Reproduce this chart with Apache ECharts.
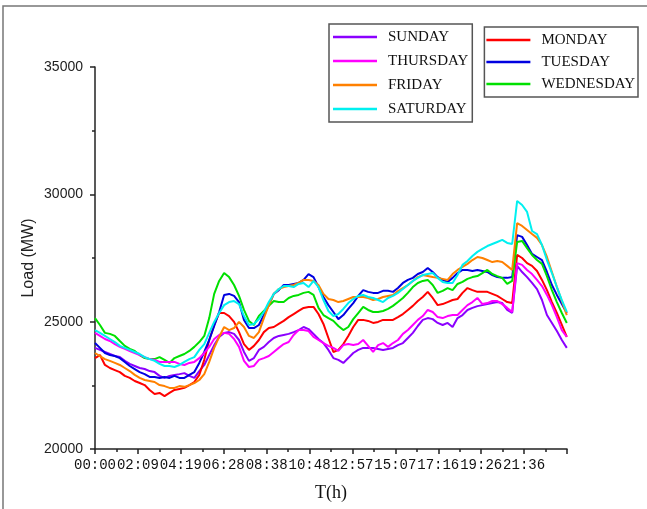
<!DOCTYPE html>
<html>
<head>
<meta charset="utf-8">
<script src="https://cdn.jsdelivr.net/npm/echarts@6/dist/echarts.min.js"></script>
<style>html,body{margin:0;padding:0;background:#fff}#c{width:647px;height:509px}</style>
</head>
<body>
<div id="c"></div>
<script>
// x positions: minutes from 00:00, 96 samples at 15-minute steps
const minutes = Array.from({length: 96}, (_, i) => i * 15);
const tickLabels = ['00:00','02:09','04:19','06:28','08:38','10:48','12:57','15:07','17:16','19:26','21:36'];
const yTicks = [20000, 25000, 30000, 35000];

const SUNDAY = [23970,23890,23810,23730,23650,23610,23460,23340,23260,23180,23140,23060,23020,22870,22790,22870,22910,22940,22980,22870,22790,23060,23300,23690,24080,24400,24560,24590,24520,24280,23810,23460,23570,23890,24010,24200,24360,24440,24480,24520,24590,24670,24790,24710,24520,24320,24160,23890,23570,23500,23380,23570,23770,23890,23970,23970,23970,23930,23890,23930,23970,24080,24160,24360,24560,24830,25070,25140,25100,24950,24870,24950,24790,25140,25260,25460,25540,25610,25650,25690,25730,25770,25730,25460,25340,27190,26950,26750,26520,26280,25850,25260,24950,24630,24280,23970];
const MONDAY = [23570,23690,23300,23180,23100,23020,22870,22790,22670,22590,22510,22320,22160,22200,22080,22200,22320,22360,22400,22510,22630,22910,23500,24280,24870,25340,25340,25220,24990,24590,24120,23890,24050,24280,24590,24750,24790,24910,25030,25180,25300,25420,25540,25580,25580,25300,24910,24360,23810,23890,24120,24440,24790,25070,25070,25030,24950,24990,25070,25070,25070,25180,25300,25460,25620,25810,25970,26170,25930,25650,25690,25770,25850,25890,26130,26320,26240,26170,26170,26170,26090,26010,25890,25770,25730,27620,27500,27300,27190,26990,26640,26240,25770,25340,24870,24400];
const TUESDAY = [24160,23970,23770,23690,23650,23570,23420,23260,23140,23020,22940,22830,22830,22790,22830,22790,22870,22790,22790,22910,23020,23380,23810,24280,24830,25380,26050,26090,26010,25770,25070,24750,24750,24870,25260,25650,26090,26240,26440,26440,26480,26520,26640,26870,26750,26360,25970,25650,25380,25100,25260,25500,25730,26010,26240,26170,26130,26130,26210,26210,26170,26320,26520,26640,26720,26870,26950,27110,26950,26750,26640,26560,26720,26910,27030,27030,26990,27030,26990,26950,26830,26750,26720,26720,26750,28400,28330,28010,27660,27540,27420,26950,26440,26050,25690,25340];
const WEDNESDAY = [25140,24870,24560,24520,24440,24240,24050,23930,23850,23690,23570,23530,23530,23610,23500,23380,23570,23650,23730,23850,24010,24200,24440,25140,26090,26600,26910,26750,26440,26010,25460,25030,24870,25220,25420,25620,25810,25770,25770,25930,26010,26050,26130,26170,26050,25540,25260,25140,25030,24830,24670,24790,25100,25340,25580,25460,25380,25380,25420,25500,25620,25770,25930,26130,26360,26520,26600,26640,26440,26130,26210,26320,26240,26480,26560,26680,26750,26790,26910,27030,26870,26790,26720,26480,26600,28130,28170,27890,27620,27420,27270,26790,26240,25770,25340,24950];
const THURSDAY = [24560,24440,24320,24240,24120,24010,23930,23850,23770,23690,23610,23530,23500,23420,23420,23420,23420,23340,23300,23380,23420,23570,23770,24010,24320,24480,24560,24520,24320,24010,23460,23220,23260,23500,23570,23650,23810,23970,24120,24200,24480,24670,24670,24630,24400,24280,24160,24050,23970,23850,24080,24120,24080,24120,24280,24050,23810,24080,24160,24010,24160,24280,24520,24670,24870,25070,25220,25460,25380,25180,25140,25220,25260,25260,25460,25650,25770,25930,25690,25730,25810,25810,25690,25540,25380,27300,27230,27030,26870,26640,26400,26050,25650,25180,24670,24400];
const FRIDAY = [23770,23650,23530,23460,23380,23300,23180,23060,22910,22790,22710,22670,22630,22510,22470,22400,22400,22470,22440,22510,22590,22710,22940,23420,23970,24400,24790,24670,24750,24990,24790,24440,24360,24590,25140,25650,26090,26280,26360,26400,26440,26520,26640,26640,26600,26440,26090,25890,25850,25770,25810,25890,25970,25970,25970,25930,25850,25890,25970,26010,26050,26200,26320,26440,26600,26750,26830,26790,26750,26720,26680,26640,26870,27030,27150,27270,27420,27540,27500,27420,27340,27380,27340,27190,27030,28870,28760,28600,28440,28290,28010,27540,26950,26360,25810,25260];
const SATURDAY = [24670,24560,24440,24320,24200,24050,23970,23890,23810,23730,23610,23530,23460,23340,23260,23260,23220,23300,23420,23530,23610,23890,24120,24560,24990,25340,25650,25770,25810,25690,25220,24870,24910,25100,25380,25770,26090,26280,26400,26400,26360,26480,26520,26360,26600,26360,25850,25420,25220,25300,25500,25730,25890,26010,26050,25970,25930,25850,25770,25930,26010,26130,26280,26440,26600,26720,26830,26870,26910,26720,26560,26520,26520,26830,27230,27380,27580,27740,27860,27970,28050,28130,28210,28090,28050,29740,29580,29310,28560,28440,28010,27420,26910,26360,25850,25380];

const seriesDefs = [
  ['SUNDAY', SUNDAY, '#8b00ff'],
  ['MONDAY', MONDAY, '#ff0000'],
  ['TUESDAY', TUESDAY, '#0000e0'],
  ['WEDNESDAY', WEDNESDAY, '#00e000'],
  ['THURSDAY', THURSDAY, '#ff00ff'],
  ['FRIDAY', FRIDAY, '#ff8000'],
  ['SATURDAY', SATURDAY, '#00f0f0']
];

const step = 129.6; // 0.09 day
const chart = echarts.init(document.getElementById('c'), null, {renderer: 'canvas'});
const legendText = {fontFamily: 'Liberation Serif', fontSize: 15, color: '#111', lineHeight: 16, padding: [0, 0, 0, 6]};
chart.setOption({
  animation: false,
  backgroundColor: '#fff',
  graphic: [{
    type: 'rect', silent: true,
    shape: {x: 3, y: 6, width: 700, height: 560},
    style: {fill: null, stroke: '#777', lineWidth: 1.5}
  }],
  grid: {left: 95, right: 80, top: 67, bottom: 60},
  legend: [{
    data: ['SUNDAY', 'THURSDAY', 'FRIDAY', 'SATURDAY'],
    orient: 'vertical', left: 329, top: 24,
    icon: 'rect', itemWidth: 44, itemHeight: 2.5, itemGap: 8,
    padding: [5, 4, 5, 4],
    borderColor: '#555', borderWidth: 1.5,
    textStyle: legendText
  }, {
    data: ['MONDAY', 'TUESDAY', 'WEDNESDAY'],
    orient: 'vertical', right: 9, top: 27,
    icon: 'rect', itemWidth: 44, itemHeight: 2.5, itemGap: 6,
    padding: [5, 3, 5, 2],
    borderColor: '#555', borderWidth: 1.5,
    textStyle: legendText
  }],
  xAxis: {
    type: 'value', min: 0, max: step * 11, interval: step,
    name: 'T(h)', nameLocation: 'middle', nameGap: 35, nameMoveOverlap: false,
    nameTextStyle: {fontFamily: 'Liberation Serif', fontSize: 18, color: '#111'},
    axisLine: {lineStyle: {color: '#222', width: 1.5}},
    axisTick: {length: 5, lineStyle: {color: '#222', width: 1.5}},
    minorTick: {show: true, splitNumber: 2, length: 3, lineStyle: {color: '#222', width: 1.5}},
    splitLine: {show: false},
    axisLabel: {
      margin: 9, fontFamily: 'Liberation Mono', fontSize: 14, color: '#111',
      showMaxLabel: false,
      formatter: v => { const k = Math.round(v / step); return k < tickLabels.length ? tickLabels[k] : ''; }
    }
  },
  yAxis: {
    type: 'value', min: yTicks[0], max: yTicks[yTicks.length - 1], interval: 5000,
    name: 'Load (MW)', nameLocation: 'middle', nameGap: 58, nameMoveOverlap: false,
    nameTextStyle: {fontFamily: 'Liberation Sans', fontSize: 16, color: '#222'},
    axisLine: {show: true, lineStyle: {color: '#222', width: 1.5}},
    axisTick: {show: true, length: 5, lineStyle: {color: '#222', width: 1.5}},
    minorTick: {show: true, splitNumber: 2, length: 3, lineStyle: {color: '#222', width: 1.5}},
    splitLine: {show: false},
    axisLabel: {margin: 12, fontFamily: 'Liberation Sans', fontSize: 14, color: '#222', formatter: v => String(v)}
  },
  series: seriesDefs.map(([name, vals, color]) => ({
    name, type: 'line', symbol: 'none', color,
    lineStyle: {width: 2, color},
    data: vals.map((v, i) => [minutes[i], v])
  }))
});
</script>
</body>
</html>
